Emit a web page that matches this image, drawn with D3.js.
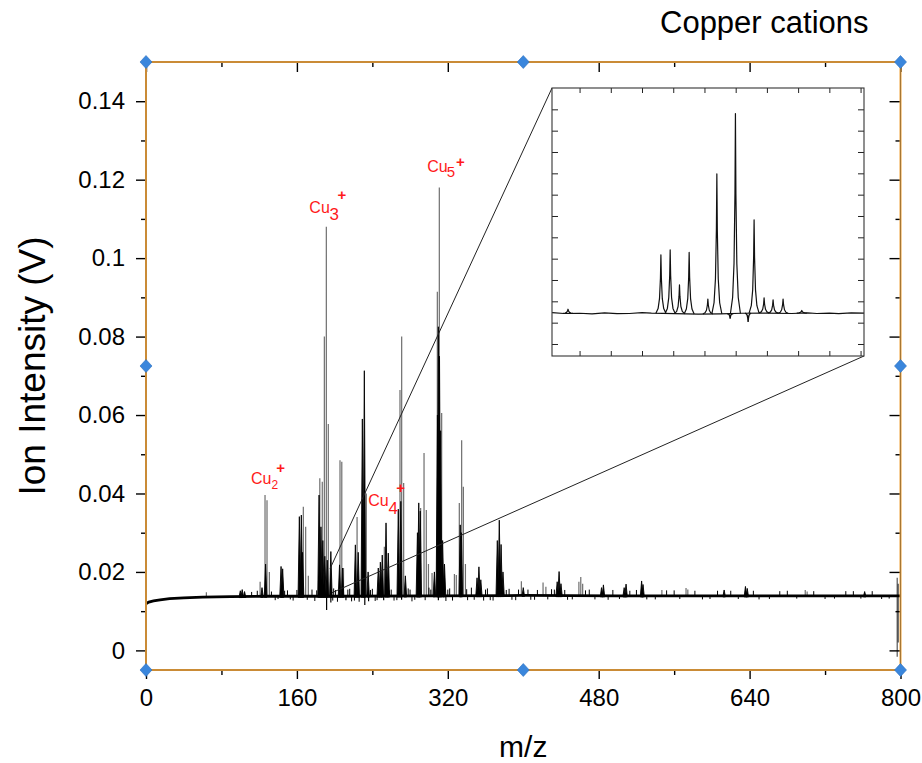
<!DOCTYPE html>
<html><head><meta charset="utf-8">
<script src="https://cdn.jsdelivr.net/npm/d3@7"></script>
<style>
body{margin:0;background:#fff}
svg{display:block}
text{font-family:"Liberation Sans",Arial,Helvetica,sans-serif}
</style>
</head><body>
<svg id="chart" width="922" height="763"></svg>
<script>
// ---------------- DATA ----------------
const chartTitle = "Copper cations";
const xTitle = "m/z";
const yTitle = "Ion Intensity (V)";
const xTicks = [0, 160, 320, 480, 640, 800];
const xMinorTicks = [80, 240, 400, 560, 720];
const yTicks = [0, 0.02, 0.04, 0.06, 0.08, 0.1, 0.12, 0.14];
const yTickLabels = ["0", "0.02", "0.04", "0.06", "0.08", "0.1", "0.12", "0.14"];
const yMinorTicks = [0.01, 0.03, 0.05, 0.07, 0.09, 0.11, 0.13];

// baseline of the spectrum [m/z, V]
const baseline = [[0,0.0119],[3,0.0123],[8,0.0126],[15,0.0129],[25,0.0132],[40,0.0134],[60,0.0136],
  [90,0.0137],[130,0.0138],[200,0.0138],[300,0.0139],[400,0.0140],[500,0.0139],[600,0.0139],
  [700,0.0139],[795,0.0139],[800,0.0139]];

// thin grey peaks [m/z, V]
const greyPeaks = [[64,0.0148],[121,0.0175],[126.2,0.0396],[128.3,0.0383],[130.8,0.0200],
  [166.8,0.0366],[169.3,0.0315],[172.1,0.0190],
  [184.3,0.0439],[186.9,0.0430],[189.1,0.0800],[191.2,0.1080],[193.3,0.0577],
  [205.7,0.0485],[207.6,0.0481],[209.4,0.0210],[223.8,0.0340],[233.6,0.0400],[252.7,0.0264],
  [269.3,0.0664],[271.1,0.0800],[273.2,0.0427],
  [291.2,0.0363],[294.8,0.0503],[297.2,0.0358],[299.5,0.0220],[303.3,0.0197],
  [308.9,0.0914],[311.0,0.1180],[313.5,0.0605],[327,0.0195],[329,0.0192],
  [332.2,0.0376],[334.7,0.0536],[336.5,0.0417],[338.7,0.0220],
  [398,0.0176],[421,0.0173],[424,0.0162],[459,0.0175],[461,0.0187],[463,0.0170],
  [547,0.0154],[572.6,0.0159],[574.5,0.0155],[699,0.0154],[701,0.0150]];

// black peaks [m/z, V]
const blackPeaks = [[100,0.0152],[102,0.0155],[104.5,0.0150],[123,0.0160],[126.8,0.0220],
  [143.2,0.0214],[144.9,0.0208],[162.6,0.0341],[164.7,0.0345],[166,0.0250],
  [183.5,0.0396],[185.5,0.0315],[187.5,0.0280],[189.6,0.0240],[192.2,0.0230],[196,0.0252],
  [205.2,0.0218],[208.4,0.0210],[222.0,0.0269],[225,0.0250],
  [229.4,0.0590],[231.5,0.0713],[235.5,0.0200],
  [246.3,0.0210],[248.5,0.0225],[250.5,0.0243],[254.5,0.0325],[256.9,0.0248],
  [267.5,0.0360],[270.2,0.0380],[275,0.0190],
  [287.8,0.0300],[289.2,0.0376],[290.8,0.0355],
  [305.8,0.0200],[309.0,0.0600],[310.0,0.0825],[311.2,0.0750],[312.4,0.0560],[314.5,0.0280],[316.5,0.0220],
  [333.2,0.0320],[334.4,0.0300],[351,0.0185],[353,0.0213],[355,0.0180],
  [372.5,0.0280],[374.6,0.0332],[376.5,0.0270],[378.5,0.0200],
  [400,0.0160],[436,0.0175],[438,0.0201],[440,0.0170],[483,0.0160],[485,0.0167],
  [507,0.0160],[509,0.0169],[525.5,0.0177],[527,0.0168],[613,0.0154],[635.6,0.0163],[637.5,0.0158],[762,0.0150]];

// negative excursions [m/z, V]
const dips = [[191.5,0.0103],[196,0.0122],[212,0.0128],[232,0.0116],[236,0.0125],[252,0.0128],[271,0.0129],[310,0.0128]];

// small baseline noise spikes [m/z, V]
const noise = [[118,0.0152],[133,0.0150],[137,0.0128],[150,0.0153],[156,0.0127],[176,0.0155],[179,0.0126],
  [199,0.0158],[203,0.0124],[214,0.0155],[218,0.0125],[226,0.0124],[240,0.0157],[243,0.0126],
  [260,0.0155],[263,0.0127],[278,0.0158],[282,0.0125],[300,0.0160],[318,0.0126],[322,0.0158],
  [341,0.0128],[345,0.0160],[358,0.0127],[362,0.0158],[368,0.0127],[385,0.0157],[392,0.0128],
  [405,0.0155],[412,0.0129],[430,0.0156],[447,0.0129],[470,0.0155],[490,0.0129],[520,0.0154],
  [540,0.0130],[560,0.0153],[590,0.0130],[620,0.0152],[650,0.0130],[680,0.0152],[720,0.0131],
  [750,0.0151],[780,0.0131],
  [112,0.0149],[140,0.0131],[147,0.0152],[153,0.0130],[160,0.0154],[171,0.0129],[181,0.0153],
  [198,0.0127],[201,0.0154],[216,0.0157],[221,0.0127],[238,0.0154],[245,0.0128],[258,0.0153],
  [266,0.0128],[280,0.0155],[285,0.0129],[296,0.0128],[302,0.0155],[320,0.0155],[325,0.0127],
  [340,0.0156],[348,0.0129],[360,0.0155],[365,0.0128],[382,0.0154],[388,0.0129],[395,0.0155],
  [408,0.0129],[415,0.0154],[426,0.0130],[433,0.0155],[444,0.0154],[452,0.0130],[466,0.0153],
  [476,0.0130],[495,0.0154],[502,0.0131],[513,0.0152],[531,0.0130],[552,0.0153],[566,0.0131],
  [582,0.0152],[598,0.0131],[606,0.0152],[628,0.0131],[644,0.0152],[661,0.0131],[672,0.0151],
  [690,0.0132],[708,0.0151],[730,0.0132],[742,0.0151],[758,0.0132],[770,0.0151],[788,0.0132]];

// end-of-scan spike [m/z, top V, bottom V]
const endSpikes = [[796.5,0.0185,-0.0016],[797.6,0.0170,0.0020]];

// cluster labels: subscript, anchor m/z, anchor V (baseline-left of "Cu")
const labelSubs = ["2", "3", "4", "5"];
const labelM = [111.3, 173.2, 235.7, 298.2];
const labelV = [0.0424, 0.1114, 0.0368, 0.1219];

// zoomed region corners in the main plot [m/z, V]
const zoomFrom = [[195.1, 0.0208], [197.2, 0.0147]];

// inset (arbitrary units)
const insetXTicks = [1,2,3,4,5,6,7,8,9,10];
const insetYTicks = [0,1,2,3,4,5,6,7,8,9,10,11];
const insetBaseline = [[0.12,1.47],[0.5,1.43],[1.0,1.44],[1.4,1.41],[1.8,1.46],[2.2,1.42],[2.6,1.43],
  [3.0,1.47],[3.3,1.45],[4.8,1.40],[5.5,1.41],[6.2,1.44],[7.0,1.45],[7.8,1.43],[8.3,1.46],
  [8.6,1.43],[9.0,1.45],[9.3,1.42],[9.7,1.46],[10.11,1.45]];
const insetPeaks = [[0.63,1.63],[3.605,4.18],[3.902,4.41],[4.20,2.77],[4.51,4.29],[5.109,2.11],
  [5.397,7.97],[5.992,10.80],[6.59,5.82],[6.91,2.16],[7.198,2.07],[7.518,2.11],[8.117,1.57]];
const insetDips = [[5.822,1.19],[6.398,1.03]];

// ---------------- LAYOUT ----------------
const W = 922, H = 763;
const plot = {l:146, r:900.5, t:62, b:670};
const inset = {l:552, r:864, t:88, b:356};
const orange = "#f0a238", blue = "#3a86dc", red = "#ff1a1a";

const svg = d3.select("#chart");
svg.append("rect").attr("width", W).attr("height", H).attr("fill", "#fff");

const x = d3.scaleLinear().domain([0, 800]).range([plot.l, plot.r]);
const y = d3.scaleLinear().domain([-0.005, 0.15]).range([plot.b, plot.t]);
const base = d3.scaleLinear().domain(baseline.map(d => d[0])).range(baseline.map(d => d[1])).clamp(true);

svg.append("defs").append("clipPath").attr("id", "pc")
  .append("rect").attr("x", plot.l).attr("y", plot.t).attr("width", plot.r - plot.l).attr("height", plot.b - plot.t);
const g = svg.append("g").attr("clip-path", "url(#pc)");

// grey peaks
g.append("path")
  .attr("d", greyPeaks.map(d => `M${x(d[0])},${y(base(d[0]))}V${y(d[1])}`).join(""))
  .attr("stroke", "#6e6e6e").attr("stroke-width", 1.2).attr("fill", "none");
// noise
g.append("path")
  .attr("d", noise.map(d => `M${x(d[0])},${y(base(d[0]))}V${y(d[1])}`).join(""))
  .attr("stroke", "#000").attr("stroke-width", 1).attr("fill", "none");
// black peaks
g.append("path")
  .attr("d", blackPeaks.map(d => { const xm = x(d[0]), yb = y(base(d[0])) + 1;
      return `M${xm - 1.3},${yb}L${xm},${y(d[1])}L${xm + 1.3},${yb}Z`; }).join(""))
  .attr("stroke", "#000").attr("stroke-width", 0.9).attr("fill", "#000");
// dips
g.append("path")
  .attr("d", dips.map(d => `M${x(d[0])},${y(base(d[0]))}V${y(d[1])}`).join(""))
  .attr("stroke", "#000").attr("stroke-width", 1.2).attr("fill", "none");
// end spikes
g.append("path")
  .attr("d", endSpikes.map((d, i) => `M${x(d[0])},${y(d[1])}V${y(d[2])}`).join(""))
  .attr("stroke", "#555").attr("stroke-width", 1.2).attr("fill", "none");
// baseline
g.append("path").datum(baseline)
  .attr("d", d3.line().x(d => x(d[0])).y(d => y(d[1])))
  .attr("stroke", "#000").attr("stroke-width", 2.8).attr("fill", "none");

// ---------------- AXES ----------------
function styleAxis(sel) {
  sel.select(".domain").remove();
  sel.selectAll(".tick line").attr("stroke", "#000").attr("stroke-width", 1.4);
}
const fsTick = 24;
svg.append("g").attr("transform", `translate(${plot.l},0)`)
  .call(d3.axisLeft(y).tickValues(yTicks).tickFormat((d, i) => yTickLabels[i]).tickSize(10).tickPadding(11))
  .call(styleAxis)
  .call(s => s.selectAll("text").attr("font-size", fsTick).attr("fill", "#000")
      .attr("font-family", '"Liberation Sans",Arial,sans-serif'));
svg.append("g").attr("transform", `translate(${plot.l},0)`)
  .call(d3.axisLeft(y).tickValues(yMinorTicks).tickFormat("").tickSize(5)).call(styleAxis);
svg.append("g").attr("transform", `translate(0,${plot.b})`)
  .call(d3.axisBottom(x).tickValues(xTicks).tickFormat(d3.format("d")).tickSize(9).tickPadding(10))
  .call(styleAxis)
  .call(s => s.selectAll("text").attr("font-size", fsTick).attr("fill", "#000")
      .attr("font-family", '"Liberation Sans",Arial,sans-serif'));
svg.append("g").attr("transform", `translate(0,${plot.b})`)
  .call(d3.axisBottom(x).tickValues(xMinorTicks).tickFormat("").tickSize(5)).call(styleAxis);
// inward ticks on top and right
svg.append("g").attr("transform", `translate(0,${plot.t})`)
  .call(d3.axisTop(x).tickValues(xTicks).tickFormat("").tickSize(-10)).call(styleAxis);
svg.append("g").attr("transform", `translate(0,${plot.t})`)
  .call(d3.axisTop(x).tickValues(xMinorTicks).tickFormat("").tickSize(-5)).call(styleAxis);
svg.append("g").attr("transform", `translate(${plot.r},0)`)
  .call(d3.axisRight(y).tickValues(yTicks).tickFormat("").tickSize(-11)).call(styleAxis);
svg.append("g").attr("transform", `translate(${plot.r},0)`)
  .call(d3.axisRight(y).tickValues(yMinorTicks).tickFormat("").tickSize(-5)).call(styleAxis);

// frame
svg.append("rect").attr("x", plot.l).attr("y", plot.t).attr("width", plot.r - plot.l).attr("height", plot.b - plot.t)
  .attr("fill", "none").attr("stroke", orange).attr("stroke-width", 2);
svg.append("rect").attr("x", plot.l).attr("y", plot.t).attr("width", plot.r - plot.l).attr("height", plot.b - plot.t)
  .attr("fill", "none").attr("stroke", "#5a4a30").attr("stroke-width", 0.5);

// ---------------- ZOOM LINES + INSET ----------------
svg.append("line").attr("x1", inset.l).attr("y1", inset.t)
  .attr("x2", x(zoomFrom[0][0])).attr("y2", y(zoomFrom[0][1])).attr("stroke", "#222").attr("stroke-width", 1);
svg.append("line").attr("x1", inset.r).attr("y1", inset.b)
  .attr("x2", x(zoomFrom[1][0])).attr("y2", y(zoomFrom[1][1])).attr("stroke", "#222").attr("stroke-width", 1);

const ix = d3.scaleLinear().domain([0.117, 10.11]).range([inset.l, inset.r]);
const iy = d3.scaleLinear().domain([-0.563, 12.0]).range([inset.b, inset.t]);
const ibase = d3.scaleLinear().domain(insetBaseline.map(d => d[0])).range(insetBaseline.map(d => d[1]));
const ig = svg.append("g");
ig.append("rect").attr("x", inset.l).attr("y", inset.t).attr("width", inset.r - inset.l).attr("height", inset.b - inset.t)
  .attr("fill", "#fff");
ig.append("path").datum(insetBaseline)
  .attr("d", d3.line().x(d => ix(d[0])).y(d => iy(d[1])))
  .attr("stroke", "#111").attr("stroke-width", 1.2).attr("fill", "none");
// peak outline (shape offsets in inset units, fraction of height)
const shape = [[-0.16, 0], [-0.09, 0.08], [-0.045, 0.25], [-0.015, 0.6], [0, 1], [0.015, 0.6], [0.045, 0.25], [0.09, 0.08], [0.16, 0]];
ig.append("path")
  .attr("d", insetPeaks.map(p => {
      const b = ibase(p[0]);
      return "M" + shape.map(s => `${ix(p[0] + s[0])},${iy(b + (p[1] - b) * s[1])}`).join("L");
    }).join(""))
  .attr("stroke", "#111").attr("stroke-width", 1.2).attr("fill", "none").attr("stroke-linejoin", "round");
ig.append("path")
  .attr("d", insetDips.map(p => {
      const b = ibase(p[0]);
      return "M" + shape.map(s => `${ix(p[0] + s[0] * 0.6)},${iy(b + (p[1] - b) * s[1])}`).join("L");
    }).join(""))
  .attr("stroke", "#111").attr("stroke-width", 1.4).attr("fill", "none");
function styleInset(sel) {
  sel.select(".domain").remove();
  sel.selectAll(".tick line").attr("stroke", "#222").attr("stroke-width", 1);
}
ig.append("g").attr("transform", `translate(0,${inset.t})`)
  .call(d3.axisTop(ix).tickValues(insetXTicks).tickFormat("").tickSize(-5)).call(styleInset);
ig.append("g").attr("transform", `translate(0,${inset.b})`)
  .call(d3.axisBottom(ix).tickValues(insetXTicks).tickFormat("").tickSize(-5)).call(styleInset);
ig.append("g").attr("transform", `translate(${inset.l},0)`)
  .call(d3.axisLeft(iy).tickValues(insetYTicks).tickFormat("").tickSize(-6)).call(styleInset);
ig.append("g").attr("transform", `translate(${inset.r},0)`)
  .call(d3.axisRight(iy).tickValues(insetYTicks).tickFormat("").tickSize(-6)).call(styleInset);
ig.append("rect").attr("x", inset.l).attr("y", inset.t).attr("width", inset.r - inset.l).attr("height", inset.b - inset.t)
  .attr("fill", "none").attr("stroke", "#333").attr("stroke-width", 1.1);

// ---------------- CLUSTER LABELS ----------------
const subStyle = [{dx:20.5, dy:5, fs:12}, {dx:20.2, dy:6.7, fs:17}, {dx:20.2, dy:8, fs:17}, {dx:19.5, dy:4.4, fs:15}];
const plusStyle = [{dx:25.3, dy:-11.3}, {dx:28.2, dy:-13.3}, {dx:28, dy:-12.7}, {dx:28.8, dy:-5.6}];
labelSubs.forEach((s, i) => {
  const lx = x(labelM[i]), ly = y(labelV[i]);
  const lg = svg.append("g").attr("fill", red);
  lg.append("text").attr("x", lx).attr("y", ly).attr("font-size", 16).text("Cu");
  lg.append("text").attr("x", lx + subStyle[i].dx).attr("y", ly + subStyle[i].dy).attr("font-size", subStyle[i].fs).text(s);
  lg.append("text").attr("x", lx + plusStyle[i].dx).attr("y", ly + plusStyle[i].dy).attr("font-size", 15)
    .attr("font-weight", "bold").text("+");
});

// ---------------- TITLES ----------------
svg.append("text").attr("x", 660).attr("y", 33).attr("font-size", 31).attr("fill", "#000").text(chartTitle);
svg.append("text").attr("x", (plot.l + plot.r) / 2).attr("y", 757).attr("text-anchor", "middle")
  .attr("font-size", 30).attr("fill", "#000").text(xTitle);
svg.append("text").attr("transform", `translate(45,${(plot.t + plot.b) / 2}) rotate(-90)`)
  .attr("text-anchor", "middle").attr("font-size", 37).attr("fill", "#000").text(yTitle);

// ---------------- SELECTION HANDLES ----------------
const handleX = [0, 400, 800], handleY = [-0.005, 0.0725, 0.15];
const handles = [];
handleX.forEach(hx => handleY.forEach(hy => { if (!(hx === 400 && hy === 0.0725)) handles.push([hx, hy]); }));
svg.append("g").selectAll("path").data(handles).join("path")
  .attr("transform", d => `translate(${x(d[0])},${y(d[1])})`)
  .attr("d", "M0,-6.5L6,0L0,6.5L-6,0Z")
  .attr("fill", blue).attr("stroke", "#2a6fc0").attr("stroke-width", 0.6);
</script>
</body></html>
